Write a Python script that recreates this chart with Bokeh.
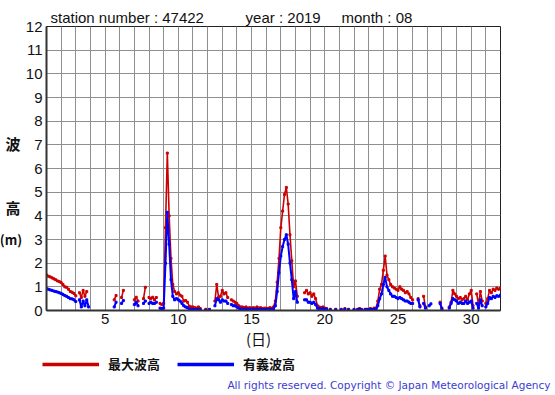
from bokeh.plotting import figure
from bokeh.layouts import column, row
from bokeh.models import FixedTicker, Label, Legend, LegendItem, ColumnDataSource, Range1d
from bokeh.embed import file_html
from bokeh.resources import INLINE

N = None

title_parts = ["station number : 47422", "year : 2019", "month : 08"]
series_names = ["最大波高", "有義波高"]
x_ticks = [5, 10, 15, 20, 25, 30]
y_ticks = list(range(0, 13))
day_grid = list(range(1, 33))

first_day = 1.0
step_day = 0.125  # 3-hourly readings

# Maximum wave height (m), 8 readings per day, day 1 .. day 32 00h
max_wave = [
    1.50, 1.45, 1.42, 1.38, 1.34, 1.30, 1.25, 1.22,   # 1
    1.18, 1.10, 1.00, 0.98, 0.90, 0.80, 0.77, 0.72,   # 2
    0.62, N, 0.75, 0.55, 0.85, 0.60, 0.80, N,         # 3
    N, N, N, N, N, N, N, N,                           # 4
    N, N, N, N, N, 0.45, 0.63, N,                     # 5
    N, 0.55, 0.85, N, N, N, N, N,                     # 6
    0.45, 0.56, 0.40, N, N, 0.50, 0.98, N,            # 7
    0.55, 0.50, 0.56, 0.45, 0.55, N, 0.30, 0.25,      # 8
    0.30, 3.50, 6.65, 4.00, 2.20, 1.10, 0.80, 0.70,   # 9
    0.75, 0.65, 0.60, 0.40, 0.42, 0.35, 0.18, 0.15,   # 10
    0.15, 0.12, 0.10, 0.15, 0.08, N, N, 0.05,         # 11
    N, 0.05, N, N, 0.40, 1.10, 0.55, 0.60,            # 12
    0.85, 0.70, 0.75, 0.55, N, 0.45, 0.40, 0.35,      # 13
    0.30, 0.20, 0.15, 0.15, 0.12, 0.15, 0.10, 0.12,   # 14
    0.10, 0.12, 0.10, 0.15, 0.10, 0.12, 0.08, 0.10,   # 15
    0.10, 0.08, 0.12, 0.10, 0.15, 0.40, 1.20, 2.20,   # 16
    3.50, 4.20, 4.90, 5.20, 4.50, 3.20, 2.10, 1.00,   # 17
    1.25, 0.60, N, N, N, 0.75, 0.85, 0.70,            # 18
    0.75, 0.60, 0.70, 0.50, 0.20, 0.15, 0.12, 0.15,   # 19
    0.10, 0.08, N, 0.05, N, N, 0.05, N,               # 20
    N, 0.05, N, 0.08, N, 0.05, N, N,                  # 21
    0.05, N, 0.05, 0.08, 0.05, N, 0.05, 0.05,         # 22
    0.05, 0.08, 0.05, 0.10, 0.10, 0.40, 0.90, 1.10,   # 23
    1.70, 2.30, 1.50, 1.30, 1.10, 1.00, 0.95, 0.90,   # 24
    0.85, 1.00, 0.90, 0.85, 0.75, 0.80, 0.70, 0.55,   # 25
    0.45, N, N, 0.50, 0.20, N, 0.60, 0.15,            # 26
    N, N, N, N, N, N, N, 0.35,                        # 27
    0.10, N, N, N, 0.15, 0.35, 0.85, 0.70,            # 28
    0.60, 0.50, 0.55, 0.45, 0.50, 0.60, 0.45, 0.70,   # 29
    0.85, 0.20, N, 0.70, 0.25, 0.80, 0.40, N,         # 30
    0.30, 0.50, 0.85, 0.75, 0.90, 0.85, 0.95, 0.90,   # 31
    0.95,                                             # 32
]

# Significant wave height (m)
sig_wave = [
    0.92, 0.90, 0.87, 0.85, 0.82, 0.80, 0.78, 0.75,   # 1
    0.72, 0.68, 0.63, 0.60, 0.55, 0.50, 0.49, 0.45,   # 2
    0.38, N, 0.45, 0.15, 0.40, 0.20, 0.45, 0.15,      # 3
    N, N, N, N, N, N, N, N,                           # 4
    N, N, N, N, N, 0.15, 0.35, N,                     # 5
    N, 0.30, 0.42, N, N, N, N, N,                     # 6
    0.25, 0.35, 0.20, N, N, 0.30, 0.40, N,            # 7
    0.30, 0.35, 0.30, 0.30, 0.35, N, 0.10, 0.08,      # 8
    0.10, 2.00, 4.15, 2.80, 1.30, 0.60, 0.45, 0.50,   # 9
    0.45, 0.40, 0.30, 0.20, 0.15, 0.12, 0.06, 0.05,   # 10
    0.05, 0.04, 0.03, 0.05, 0.03, N, N, 0.02,         # 11
    N, 0.03, N, N, 0.20, 0.50, 0.45, 0.35,            # 12
    0.45, 0.40, 0.40, 0.30, N, 0.25, 0.20, 0.20,      # 13
    0.15, 0.10, 0.06, 0.06, 0.05, 0.06, 0.04, 0.05,   # 14
    0.04, 0.05, 0.04, 0.06, 0.04, 0.05, 0.03, 0.04,   # 15
    0.04, 0.03, 0.05, 0.04, 0.06, 0.20, 0.80, 1.60,   # 16
    2.30, 2.70, 3.00, 3.20, 2.80, 2.00, 1.30, 0.50,   # 17
    0.80, 0.35, N, N, N, 0.45, 0.45, 0.35,            # 18
    0.35, 0.30, 0.35, 0.25, 0.10, 0.08, 0.05, 0.08,   # 19
    0.06, 0.05, N, 0.03, N, N, 0.03, N,               # 20
    N, 0.03, N, 0.05, N, 0.03, N, N,                  # 21
    0.03, N, 0.03, 0.05, 0.03, N, 0.03, 0.03,         # 22
    0.03, 0.05, 0.03, 0.06, 0.05, 0.20, 0.50, 0.70,   # 23
    1.10, 1.40, 1.00, 0.85, 0.70, 0.60, 0.60, 0.55,   # 24
    0.50, 0.55, 0.50, 0.45, 0.40, 0.40, 0.35, 0.30,   # 25
    0.30, N, N, 0.45, 0.15, N, 0.30, 0.10,            # 26
    N, 0.20, 0.28, N, N, N, N, 0.30,                  # 27
    0.05, N, N, N, 0.10, 0.30, 0.50, 0.45,            # 28
    0.40, 0.30, 0.35, 0.30, 0.30, 0.40, 0.30, 0.35,   # 29
    0.40, 0.10, N, 0.30, 0.10, 0.45, 0.20, N,         # 30
    0.15, 0.30, 0.55, 0.50, 0.60, 0.55, 0.62, 0.60,   # 31
    0.65,                                             # 32
]

W = 555
LEFT_W = 22          # strip holding the vertical y label
TOP_H = 328          # height of the strip with the plot
BOT_H = 395 - TOP_H  # strip with x label, legend and credit
RED = "#cc0000"
BLUE = "#0000ff"
FONT = "Liberation Sans"
CJK = "Noto Sans CJK JP"
NB = "\u00a0"

t = [first_day + step_day * i for i in range(len(max_wave))]
to_num = lambda v: float("nan") if v is None else v
src = ColumnDataSource(dict(
    t=t,
    hmax=[to_num(v) for v in max_wave],
    hsig=[to_num(v) for v in sig_wave],
))


def blank(width, height, left=0):
    f = figure(width=width, height=height, output_backend="svg", toolbar_location=None,
               x_range=Range1d(-2, -1), y_range=Range1d(0, 1),
               min_border_left=left, min_border_right=0, min_border_top=0, min_border_bottom=0)
    f.axis.visible = False
    f.grid.visible = False
    f.outline_line_color = None
    f.background_fill_color = "white"
    f.border_fill_color = "white"
    f.frame_align = False
    return f


def lab(fig, x, y, text, font=FONT, size="15px", style="normal",
        align="center", baseline="middle", color="#111111"):
    fig.add_layout(Label(x=x, y=y, x_units="screen", y_units="screen",
                         text=text, text_font=font, text_font_size=size,
                         text_font_style=style, text_align=align,
                         text_baseline=baseline, text_color=color))


# ---------- main plot ----------
p = figure(width=W - LEFT_W, height=TOP_H, output_backend="svg", toolbar_location=None,
           x_range=Range1d(1, 32), y_range=Range1d(0, 12),
           min_border_left=46 - LEFT_W, min_border_right=55, min_border_top=26,
           min_border_bottom=TOP_H - 310)
p.frame_align = False
p.background_fill_color = "white"
p.border_fill_color = "white"
p.outline_line_color = "#222222"
p.outline_line_width = 1

p.title.text = (title_parts[0] + NB * 10 + title_parts[1] + NB * 5 + title_parts[2])
p.title.align = "left"
p.title.offset = 4
p.title.standoff = 2
p.title.text_font = FONT
p.title.text_font_size = "15px"
p.title.text_font_style = "normal"
p.title.text_color = "#111111"

p.xaxis.ticker = FixedTicker(ticks=x_ticks)
p.yaxis.ticker = FixedTicker(ticks=y_ticks)
p.xgrid.ticker = FixedTicker(ticks=day_grid)
p.ygrid.ticker = FixedTicker(ticks=y_ticks)
for g in (p.xgrid, p.ygrid):
    g.grid_line_color = "#8f8f8f"
    g.grid_line_width = 1
for ax in (p.xaxis, p.yaxis):
    ax.major_tick_line_color = None
    ax.minor_tick_line_color = None
    ax.major_tick_out = 0
    ax.major_tick_in = 0
    ax.axis_line_color = "#333333"
    ax.axis_line_width = 2
    ax.major_label_text_font = FONT
    ax.major_label_text_font_size = "15px"
    ax.major_label_text_color = "#111111"
p.yaxis.major_label_standoff = 4
p.xaxis.major_label_standoff = 3

p.line("t", "hmax", source=src, line_color=RED, line_width=1.6)
p.scatter("t", "hmax", source=src, marker="square", size=2, color=RED)
p.line("t", "hsig", source=src, line_color=BLUE, line_width=2)
p.scatter("t", "hsig", source=src, marker="square", size=2, color=BLUE)

# ---------- y label strip ----------
pl = blank(LEFT_W, TOP_H)
lab(pl, 12.5, TOP_H - 143, "波", font=CJK, style="bold")
lab(pl, 12.5, TOP_H - 206.5, "高", font=CJK, style="bold")
lab(pl, 10.5, TOP_H - 239, "(m)", font=CJK, size="13px", style="bold")

# ---------- bottom strip: x label, legend, credit ----------
BL = 16
pb = blank(W, BOT_H, left=BL)
lab(pb, 258 - BL, 395 - 338, "(日)", font=CJK)
# legend renderers share the series data; this strip's ranges keep them off-frame
lr1 = pb.line("t", "hmax", source=src, line_color=RED, line_width=3.5)
lr2 = pb.line("t", "hsig", source=src, line_color=BLUE, line_width=3.5)
legend = Legend(items=[LegendItem(label=series_names[0], renderers=[lr1]),
                       LegendItem(label=series_names[1], renderers=[lr2])],
                orientation="horizontal", location="top_left",
                glyph_width=57, glyph_height=16, label_height=16,
                label_standoff=9, spacing=17, padding=0, margin=26,
                border_line_alpha=0, background_fill_alpha=0,
                label_text_font=CJK, label_text_font_style="bold",
                label_text_font_size="13px", label_text_color="#111111")
pb.add_layout(legend, "center")
lab(pb, 550 - BL, 395 - 384, "All rights reserved. Copyright © Japan Meteorological Agency",
    font="DejaVu Sans", size="10.5px", align="right", color="#3c3cd2")

layout = column(row(pl, p, spacing=0), pb, spacing=0)
open("out.html", "w").write(file_html(layout, INLINE))
